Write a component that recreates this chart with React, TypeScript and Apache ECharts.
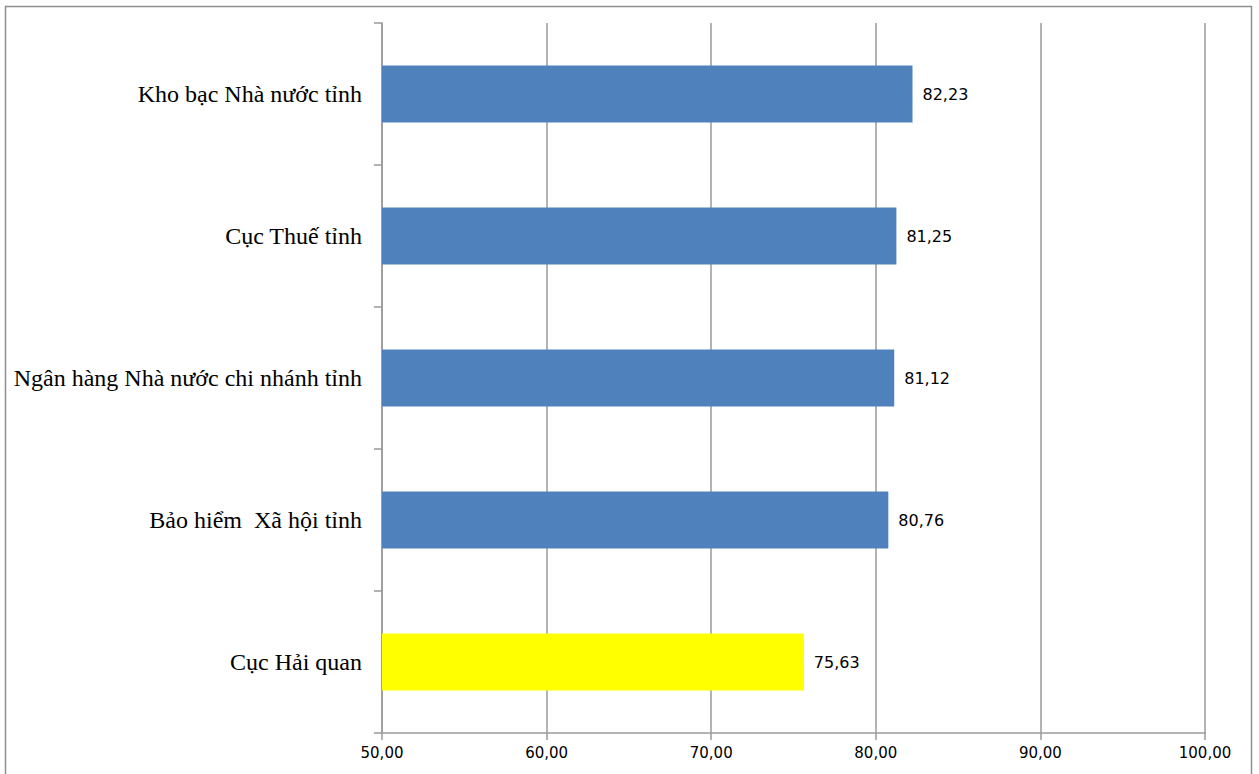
import React, { useEffect, useRef } from "react";
import * as echarts from "echarts";

const categories = [
  "Kho bạc Nhà nước tỉnh",
  "Cục Thuế tỉnh",
  "Ngân hàng Nhà nước chi nhánh tỉnh",
  "Bảo hiểm  Xã hội tỉnh",
  "Cục Hải quan",
];
const values = [82.23, 81.25, 81.12, 80.76, 75.63];
const barColors = ["#4F81BD", "#4F81BD", "#4F81BD", "#4F81BD", "#FFFF00"];
const xTicks = { min: 50, max: 100, interval: 10 };

const fmt = (v: number) => v.toFixed(2).replace(".", ",");

export default function App() {
  const ref = useRef<HTMLDivElement>(null);
  useEffect(() => {
    if (!ref.current) return;
    const chart = echarts.init(ref.current, undefined, { renderer: "svg" });
    chart.setOption({
      animation: false,
      backgroundColor: "#ffffff",
      graphic: [
        {
          type: "rect",
          shape: { x: 5.5, y: 6.5, width: 1246, height: 820 },
          style: { fill: "none", stroke: "#8e8e8e", lineWidth: 1.5 },
          silent: true,
        },
      ],
      grid: { left: 382, right: 54, top: 23, bottom: 41, containLabel: false },
      xAxis: {
        type: "value",
        min: xTicks.min,
        max: xTicks.max,
        interval: xTicks.interval,
        axisLine: { show: true, lineStyle: { color: "#9a9a9a", width: 1.5 } },
        axisTick: { show: true, length: 7, lineStyle: { color: "#9a9a9a", width: 1.5 } },
        splitLine: { show: true, lineStyle: { color: "#9a9a9a", width: 1.5 } },
        axisLabel: {
          formatter: (v: number) => fmt(v),
          fontFamily: "DejaVu Sans",
          fontSize: 15,
          color: "#000",
          margin: 12,
        },
      },
      yAxis: {
        type: "category",
        inverse: true,
        data: categories,
        axisLine: { show: true, lineStyle: { color: "#9a9a9a", width: 1.5 } },
        axisTick: { show: true, length: 8, alignWithLabel: false, lineStyle: { color: "#9a9a9a", width: 1.5 } },
        splitLine: { show: false },
        axisLabel: {
          fontFamily: "Liberation Serif",
          fontSize: 24,
          color: "#000",
          margin: 20,
        },
      },
      series: [
        {
          type: "bar",
          data: values.map((v, i) => ({ value: v, itemStyle: { color: barColors[i] } })),
          barWidth: 57,
          label: {
            show: true,
            position: "right",
            distance: 10,
            formatter: (p: any) => fmt(p.value),
            fontFamily: "DejaVu Sans",
            fontSize: 16,
            color: "#000",
          },
        },
      ],
    });
    return () => chart.dispose();
  }, []);
  return (
    <div
      ref={ref}
      style={{ position: "absolute", left: 0, top: 0, width: 1259, height: 774 }}
    />
  );
}
